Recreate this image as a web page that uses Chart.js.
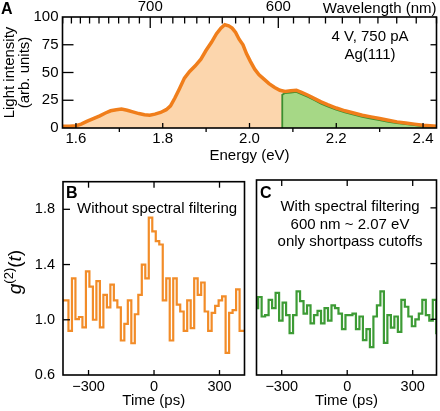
<!DOCTYPE html>
<html>
<head>
<meta charset="utf-8">
<script src="https://cdn.jsdelivr.net/npm/chart.js@4.4.0/dist/chart.umd.min.js"></script>
<style>
  html, body { margin: 0; padding: 0; background: #fff; }
  #wrap { position: relative; width: 440px; height: 411px; }
  canvas { position: absolute; }
</style>
</head>
<body>
<div id="wrap">
  <canvas id="specA" width="440" height="165" style="left:0;top:0;width:440px;height:165px"></canvas>
  <canvas id="g2B" width="250" height="246" style="left:0;top:165px;width:250px;height:246px"></canvas>
  <canvas id="g2C" width="190" height="246" style="left:250px;top:165px;width:190px;height:246px"></canvas>
</div>
<script>
// panel A: emission spectrum (energy in eV, intensity in arb. units)
const energy = [1.568, 1.585, 1.600, 1.612, 1.625, 1.640, 1.655, 1.668, 1.680, 1.693,
  1.705, 1.718, 1.731, 1.745, 1.758, 1.770, 1.782, 1.795, 1.808, 1.818,
  1.828, 1.838, 1.850, 1.862, 1.875, 1.888, 1.900, 1.912, 1.924, 1.934,
  1.943, 1.952, 1.960, 1.968, 1.976, 1.985, 1.993, 2.002, 2.012, 2.022,
  2.032, 2.045, 2.058, 2.070, 2.082, 2.095, 2.108, 2.120, 2.135, 2.150,
  2.165, 2.180, 2.200, 2.220, 2.240, 2.260, 2.280, 2.300, 2.320, 2.340,
  2.360, 2.380, 2.400, 2.432];
const intensity = [1.5, 1.5, 2, 3.5, 6, 8.5, 11, 13.5, 15.5, 16.5,
  17, 16, 14.5, 13, 12, 11.5, 12.5, 14, 16.5, 20,
  27, 35, 45, 51, 56, 62, 70, 77, 85, 90,
  93, 92, 90, 86, 80, 75, 67, 60, 53, 48,
  44.5, 40, 36.5, 34, 33, 33.5, 34, 32, 29.5, 26.5,
  23.5, 21, 18, 15.5, 13.5, 11.5, 10, 8.5, 7, 5.5,
  4.5, 3.5, 2.5, 1.5];
// shortpass-filtered part (green)
const greenEnergy = [2.075, 2.0755, 2.082, 2.095, 2.108, 2.120, 2.135, 2.150, 2.165, 2.180,
  2.200, 2.220, 2.240, 2.260, 2.280, 2.300, 2.320, 2.340, 2.360, 2.380, 2.400, 2.432];
const greenIntensity = [0, 30, 31.5, 32, 32.5, 30.5, 28, 25, 22, 19.5,
  16.5, 14, 12, 10, 8.5, 7, 5.5, 4.5, 3.5, 2.5, 1.5, 1];

const energyTicks = [1.6, 1.7, 1.8, 1.9, 2.0, 2.1, 2.2, 2.3, 2.4];
const energyLabels = ['1.6', '', '1.8', '', '2.0', '', '2.2', '', '2.4'];
const wavelengthTicks = [790, 780, 770, 760, 750, 740, 730, 720, 710, 700, 690, 680, 670, 660, 650,
  640, 630, 620, 610, 600, 590, 580, 570, 560, 550, 540, 530, 520, 510];
const intensityTicks = [0, 25, 50, 75, 100];

// panels B, C: g2 histograms, 16 ps bins (edges in ps)
const timeEdges = [-424, -408, -392, -376, -360, -344, -328, -312, -296, -280, -264, -248, -232, -216,
  -200, -184, -168, -152, -136, -120, -104, -88, -72, -56, -40, -24, -8, 8, 24, 40, 56, 72, 88, 104,
  120, 136, 152, 168, 184, 200, 216, 232, 248, 264, 280, 296, 312, 328, 344, 360, 376, 392, 408, 424];
const g2Without = [1.14, 1.14, 0.92, 1.30, 1.005, 1.02, 0.945, 1.35, 1.24, 1.00,
  1.28, 0.945, 1.18, 1.09, 1.255, 1.14, 1.09, 0.85, 0.97, 1.14,
  0.83, 1.04, 1.18, 1.40, 1.30, 1.74, 1.64, 1.57, 1.545, 1.14,
  1.30, 0.85, 1.30, 1.11, 1.06, 0.92, 1.14, 0.94, 1.30, 1.18,
  1.27, 1.06, 0.92, 1.05, 1.10, 1.14, 1.17, 0.76, 1.05, 1.07,
  1.22, 0.92, 0.92];
const g2With = [1.08, 1.16, 1.02, 1.03, 1.14, 1.08, 1.19, 0.99, 1.12, 1.03,
  0.90, 1.03, 1.20, 1.13, 1.04, 1.10, 0.97, 1.03, 1.06, 0.97,
  1.08, 0.99, 1.10, 1.08, 1.04, 0.93, 1.03, 1.03, 1.04, 0.93,
  1.02, 0.85, 0.93, 0.80, 1.02, 1.10, 1.20, 0.83, 1.03, 0.94,
  1.02, 0.91, 1.14, 1.09, 1.02, 0.95, 1.00, 1.04, 1.14, 1.03,
  0.99, 1.14, 0.90];
const timeTicks = [-300, 0, 300];
const g2Ticks = [0.6, 1.0, 1.4, 1.8];

const HC = 1239.84;
const FAM = 'Arial, "Liberation Sans", sans-serif';

Chart.defaults.font.family = FAM;
Chart.defaults.font.size = 15;
Chart.defaults.color = '#000';
Chart.defaults.animation = false;
Chart.defaults.plugins.legend.display = false;
Chart.defaults.plugins.tooltip.enabled = false;

function pts(xs, ys) { return xs.map((x, i) => ({ x: x, y: ys[i] })); }
function steps(edges, vals) { return edges.map((t, i) => ({ x: t, y: vals[Math.min(i, vals.length - 1)] })); }
function fixTicks(list) { return s => { s.ticks = list.map(v => ({ value: v })); }; }
const minus = v => String(v).replace('-', '\u2212');
const noGrid = { display: false, drawTicks: false };

// frame, tick marks and free text, drawn on top
function decor(cfg) {
  return {
    id: 'decor',
    afterDraw(chart) {
      const ctx = chart.ctx, a = chart.chartArea;
      ctx.save();
      ctx.strokeStyle = '#000';
      ctx.lineWidth = 1.3;
      (cfg.marks || []).forEach(m => {
        const s = chart.scales[m.scale];
        m.values.forEach((v, i) => {
          const p = s.getPixelForValue(v);
          const len = Array.isArray(m.len) ? m.len[i] : m.len;
          const d = (m.dir === 'in' ? 1 : -1) * len;
          ctx.beginPath();
          if (m.edge === 'bottom') { ctx.moveTo(p, a.bottom); ctx.lineTo(p, a.bottom - d); }
          else if (m.edge === 'top') { ctx.moveTo(p, a.top); ctx.lineTo(p, a.top + d); }
          else if (m.edge === 'left') { ctx.moveTo(a.left, p); ctx.lineTo(a.left + d, p); }
          else { ctx.moveTo(a.right, p); ctx.lineTo(a.right - d, p); }
          ctx.stroke();
        });
      });
      ctx.lineWidth = 1.6;
      ctx.strokeRect(a.left, a.top, a.right - a.left, a.bottom - a.top);
      ctx.fillStyle = '#000';
      ctx.textBaseline = 'alphabetic';
      (cfg.notes || []).forEach(n => {
        ctx.font = n.font;
        ctx.textAlign = n.align || 'left';
        ctx.fillText(n.text, n.x, n.y);
      });
      if (cfg.g2) {
        // g^(2)(t), rotated
        const parts = [['italic 19px ' + FAM, 'g', 0], ['13px ' + FAM, '(2)', -8],
          ['19px ' + FAM, '(', 0], ['italic 19px ' + FAM, 't', 0], ['19px ' + FAM, ')', 0]];
        ctx.translate(cfg.g2.x, cfg.g2.y);
        ctx.rotate(-Math.PI / 2);
        ctx.textAlign = 'left';
        let w = 0;
        parts.forEach(p => { ctx.font = p[0]; w += ctx.measureText(p[1]).width; });
        let x = -w / 2;
        parts.forEach(p => { ctx.font = p[0]; ctx.fillText(p[1], x, p[2]); x += ctx.measureText(p[1]).width; });
      }
      ctx.restore();
    }
  };
}

// ---- A ----
new Chart(document.getElementById('specA'), {
  type: 'line',
  data: {
    datasets: [
      { data: pts(energy, intensity), borderColor: '#f07e1b', borderWidth: 3.5, fill: false, pointRadius: 0 },
      { data: pts(greenEnergy, greenIntensity), borderColor: '#3b8f2f', borderWidth: 1.8,
        backgroundColor: '#a6d886', fill: 'origin', pointRadius: 0 },
      { data: pts(energy, intensity), borderWidth: 0, backgroundColor: '#fcd6ad', fill: 'origin', pointRadius: 0 }
    ]
  },
  options: {
    responsive: false,
    layout: { padding: { left: 0, right: 3.5, top: 0, bottom: 0 } },
    scales: {
      x: {
        type: 'linear', position: 'bottom', min: 1.569, max: 2.431,
        grid: noGrid, border: { display: false },
        afterBuildTicks: fixTicks(energyTicks),
        afterFit: s => { s.height = 37; },
        ticks: { padding: 2, autoSkip: false, maxRotation: 0, callback: (v, i) => energyLabels[i] },
        title: { display: true, text: 'Energy (eV)', padding: 0 }
      },
      x2: {
        type: 'linear', position: 'top', min: 1.569, max: 2.431,
        grid: noGrid, border: { display: false },
        afterBuildTicks: fixTicks(wavelengthTicks.map(w => HC / w)),
        afterFit: s => { s.height = 17; },
        ticks: { padding: 1, autoSkip: false, maxRotation: 0,
          callback: v => { const w = Math.round(HC / v); return w % 100 === 0 ? String(w) : ''; } },
        title: { display: true, text: 'Wavelength (nm)', align: 'end', padding: 0 }
      },
      y: {
        min: 0, max: 100,
        grid: noGrid, border: { display: false },
        afterBuildTicks: fixTicks(intensityTicks),
        afterFit: s => { s.width = 62.5; },
        ticks: { padding: 4 },
        title: { display: true, text: ['Light intensity', '(arb. units)'], font: { lineHeight: 1.0 },
          padding: { top: 2, bottom: 0 } }
      }
    }
  },
  plugins: [decor({
    marks: [
      { scale: 'x', edge: 'bottom', values: [1.6, 1.8, 2.0, 2.2, 2.4], len: 5, dir: 'in' },
      { scale: 'x', edge: 'bottom', values: [1.7, 1.9, 2.1, 2.3], len: 4, dir: 'out' },
      { scale: 'x2', edge: 'top', values: wavelengthTicks.map(w => HC / w),
        len: wavelengthTicks.map(w => w % 100 === 0 ? 11 : 6.5), dir: 'in' },
      { scale: 'y', edge: 'left', values: [25, 50, 75], len: 11, dir: 'in' },
      { scale: 'y', edge: 'right', values: [25, 50, 75], len: 6, dir: 'in' }
    ],
    notes: [
      { text: 'A', x: 1, y: 14, font: 'bold 16px ' + FAM },
      { text: '4 V, 750 pA', x: 370, y: 41, align: 'center', font: '15px ' + FAM },
      { text: 'Ag(111)', x: 370, y: 59, align: 'center', font: '15px ' + FAM }
    ]
  })]
});

// ---- B and C ----
function g2Chart(id, vals, color, o) {
  return new Chart(document.getElementById(id), {
    type: 'line',
    data: { datasets: [{ data: steps(timeEdges, vals), stepped: true, borderColor: color,
      borderWidth: 2.2, pointRadius: 0, fill: false }] },
    options: {
      responsive: false,
      layout: { padding: o.padding },
      scales: {
        x: {
          type: 'linear', min: o.min, max: o.max,
          grid: noGrid, border: { display: false },
          afterBuildTicks: fixTicks(timeTicks),
          afterFit: s => { s.height = 36; },
          ticks: { padding: 3, autoSkip: false, maxRotation: 0, font: { size: 14.5 }, callback: v => minus(v) },
          title: { display: true, text: 'Time (ps)', padding: { top: 0, bottom: 1 } }
        },
        y: {
          display: o.showY, min: 0.6, max: 2.0,
          grid: noGrid, border: { display: false },
          afterBuildTicks: fixTicks(g2Ticks),
          afterFit: s => { s.width = o.showY ? 63 : 0; },
          ticks: { padding: 8, font: { size: 14.5 }, callback: v => v.toFixed(1) }
        }
      }
    },
    plugins: [decor(o.decor)]
  });
}

g2Chart('g2B', g2Without, '#f28c28', {
  padding: { left: 0, right: 5.5, top: 15, bottom: 0 }, min: -417, max: 414.5, showY: true,
  decor: {
    marks: [
      { scale: 'x', edge: 'top', values: timeTicks, len: 6, dir: 'in' },
      { scale: 'x', edge: 'bottom', values: timeTicks, len: 5, dir: 'in' },
      { scale: 'y', edge: 'left', values: [1.0, 1.4, 1.8], len: 7, dir: 'in' }
    ],
    notes: [
      { text: 'B', x: 66, y: 33, font: 'bold 16px ' + FAM },
      { text: 'Without spectral filtering', x: 77, y: 48, font: '15px ' + FAM }
    ],
    g2: { x: 21, y: 107 }
  }
});

g2Chart('g2C', g2With, '#3d9b35', {
  padding: { left: 6.5, right: 3.5, top: 15, bottom: 0 }, min: -415.5, max: 409, showY: false,
  decor: {
    marks: [
      { scale: 'x', edge: 'top', values: timeTicks, len: 6, dir: 'in' },
      { scale: 'x', edge: 'bottom', values: timeTicks, len: 5, dir: 'in' },
      { scale: 'y', edge: 'right', values: [1.0, 1.4, 1.8], len: 6, dir: 'in' }
    ],
    notes: [
      { text: 'C', x: 10, y: 33, font: 'bold 16px ' + FAM },
      { text: 'With spectral filtering', x: 100, y: 46, align: 'center', font: '15px ' + FAM },
      { text: '600 nm ~ 2.07 eV', x: 100, y: 64, align: 'center', font: '15px ' + FAM },
      { text: 'only shortpass cutoffs', x: 100, y: 81, align: 'center', font: '15px ' + FAM }
    ]
  }
});
</script>
</body>
</html>
